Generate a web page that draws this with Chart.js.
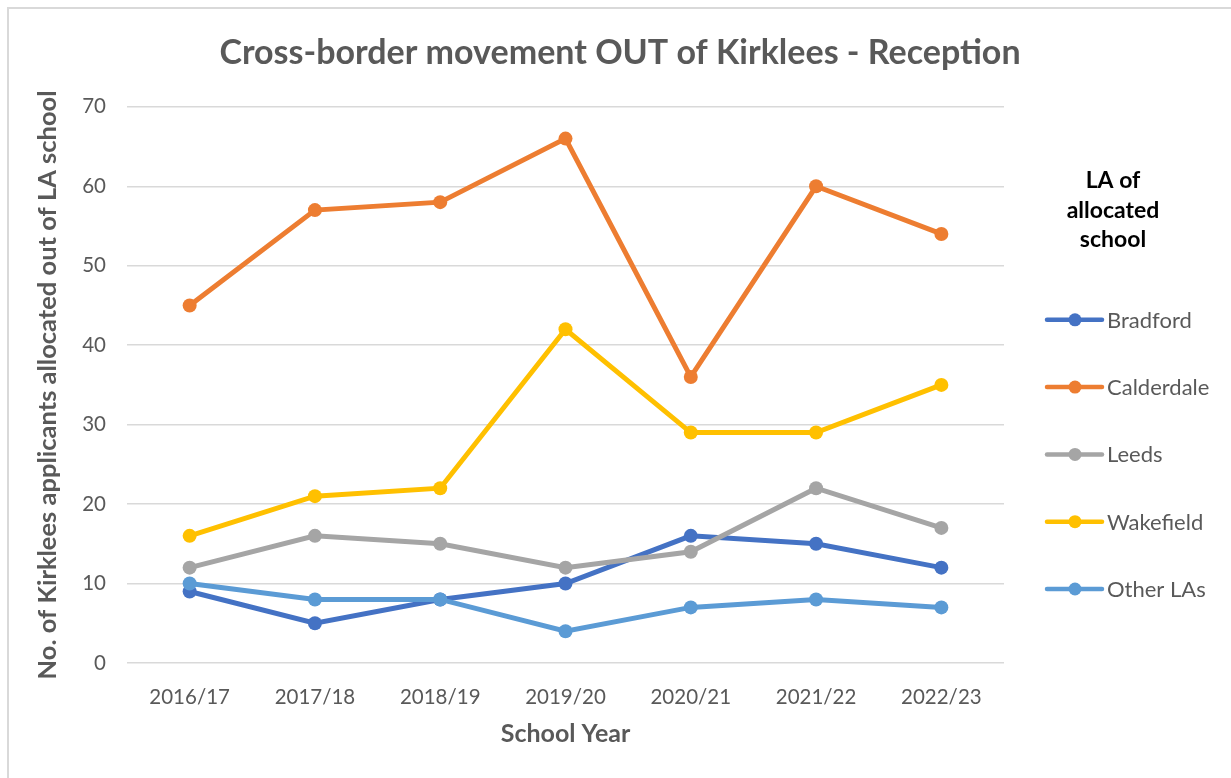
<!DOCTYPE html>
<html>
<head>
<meta charset="utf-8">
<script src="https://cdn.jsdelivr.net/npm/chart.js@4"></script>
<style>
  html, body { margin: 0; padding: 0; background: #fff; }
  #frame {
    position: absolute; left: 7px; top: 7px;
    width: 1222px; height: 769px;
    border-left: 2px solid #d9d9d9; border-top: 2px solid #d9d9d9;
  }
  #frame canvas { display: block; }
</style>
</head>
<body>
<div id="frame"><canvas id="movement-chart" width="1222" height="769"></canvas></div>
<script>
"use strict";

// values
const schoolYears = ["2016/17", "2017/18", "2018/19", "2019/20", "2020/21", "2021/22", "2022/23"];
const bradford   = [9, 5, 8, 10, 16, 15, 12];
const calderdale = [45, 57, 58, 66, 36, 60, 54];
const leeds      = [12, 16, 15, 12, 14, 22, 17];
const wakefield  = [16, 21, 22, 42, 29, 29, 35];
const otherLAs   = [10, 8, 8, 4, 7, 8, 7];
const seriesNames = ["Bradford", "Calderdale", "Leeds", "Wakefield", "Other LAs"];
const legendTitle = ["LA of", "allocated", "school"];

const seriesValues = [bradford, calderdale, leeds, wakefield, otherLAs];
const seriesColours = ["#4472C4", "#ED7D31", "#A5A5A5", "#FFC000", "#5B9BD5"];

const FONT = "Lato, 'Open Sans', 'Liberation Sans', sans-serif";
const GREY_TEXT = "#595959";

Chart.defaults.font.family = FONT;
Chart.defaults.color = GREY_TEXT;

// Excel style legend on the right, with the wrapped title above it
const sideLegend = {
  id: "sideLegend",
  afterDraw(chart) {
    const { ctx, chartArea } = chart;
    const left = chartArea.right;
    ctx.save();
    ctx.fillStyle = "#000";
    ctx.font = "bold 23px " + FONT;
    ctx.textAlign = "center";
    ctx.textBaseline = "middle";
    legendTitle.forEach((line, i) => {
      ctx.fillText(line, left + 109, chartArea.top + 74 + i * 29.5);
    });

    ctx.font = "22px " + FONT;
    ctx.textAlign = "left";
    chart.data.datasets.forEach((ds, i) => {
      const y = chartArea.top + 213 + i * 67.3;
      ctx.strokeStyle = ds.borderColor;
      ctx.fillStyle = ds.borderColor;
      ctx.lineWidth = 4.5;
      ctx.lineCap = "round";
      ctx.beginPath();
      ctx.moveTo(left + 43, y);
      ctx.lineTo(left + 98, y);
      ctx.stroke();
      ctx.beginPath();
      ctx.arc(left + 71, y, 6.5, 0, Math.PI * 2);
      ctx.fill();
      ctx.fillStyle = GREY_TEXT;
      ctx.fillText(ds.label, left + 103, y + 1);
    });
    ctx.restore();
  },
};

function buildDatasets() {
  return seriesNames.map((name, i) => ({
    label: name,
    data: seriesValues[i],
    borderColor: seriesColours[i],
    backgroundColor: seriesColours[i],
    pointBackgroundColor: seriesColours[i],
    pointBorderColor: seriesColours[i],
    borderWidth: 5,
    pointRadius: 7,
    pointBorderWidth: 0,
    tension: 0,
    order: seriesNames.length - i, // later series on top, like Excel
  }));
}

function renderChart(canvasId) {
  const ctx = document.getElementById(canvasId).getContext("2d");
  return new Chart(ctx, {
    type: "line",
    data: { labels: schoolYears, datasets: buildDatasets() },
    plugins: [sideLegend],
    options: {
      responsive: false,
      animation: false,
      layout: { padding: 0 },
      plugins: {
        legend: { display: false },
        tooltip: { enabled: false },
        title: {
          display: true,
          text: "Cross-border movement OUT of Kirklees - Reception",
          color: GREY_TEXT,
          font: { size: 34, weight: "bold" },
          padding: { top: 23.5, bottom: 33.5 },
        },
      },
      scales: {
        x: {
          offset: true,
          grid: { display: false, drawTicks: false },
          border: { display: false },
          ticks: { padding: 22, font: { size: 20.5 }, color: GREY_TEXT },
          title: {
            display: true,
            text: "School Year",
            color: GREY_TEXT,
            font: { size: 25, weight: "bold" },
            padding: { top: 0, bottom: 29 },
          },
          afterFit(scale) { scale.height = 115; },
        },
        y: {
          min: 0,
          max: 70,
          ticks: { stepSize: 10, padding: 21, font: { size: 20.5 }, color: GREY_TEXT },
          grid: { color: "#D9D9D9", lineWidth: 1.5, drawTicks: false },
          border: { display: false },
          title: {
            display: true,
            text: "No. of Kirklees applicants allocated out of LA school",
            color: GREY_TEXT,
            font: { size: 25.5, weight: "bold" },
            padding: { top: 23, bottom: 0 },
          },
          afterFit(scale) { scale.width = 118; },
        },
        // empty box that keeps room on the right for the legend
        legendSpace: {
          type: "linear",
          position: "right",
          display: true,
          grid: { display: false, drawTicks: false },
          border: { display: false },
          ticks: { display: false },
          afterFit(scale) { scale.width = 227; },
        },
      },
    },
  });
}

const movementChart = renderChart("movement-chart");
</script>
</body>
</html>
